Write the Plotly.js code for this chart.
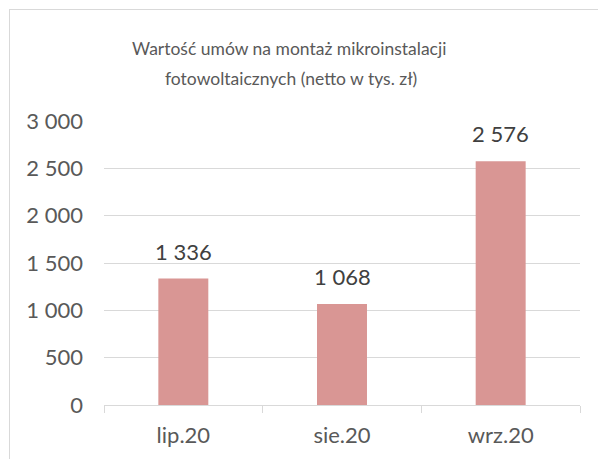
<!DOCTYPE html>
<html>
<head>
<meta charset="utf-8">
<script src="https://cdn.plot.ly/plotly-3.0.1.min.js"></script>
<style>
html,body{margin:0;padding:0;background:#fff;overflow:hidden;}
#wrap{position:relative;width:598px;height:459px;}
#chart{position:absolute;left:0;top:0;width:598px;height:459px;}
#frame{position:absolute;left:9px;top:9px;width:700px;height:600px;border-top:1px solid #D9D9D9;border-left:1px solid #D9D9D9;pointer-events:none;}
</style>
</head>
<body>
<div id="wrap"><div id="chart"></div><div id="frame"></div></div>
<script>
const categories = ["lip.20", "sie.20", "wrz.20"];
const values = [1336, 1068, 2576];
const valueLabels = ["1 336", "1 068", "2 576"];
const yTickValues = [0, 500, 1000, 1500, 2000, 2500, 3000];
const yTickLabels = ["0", "500", "1 000", "1 500", "2 000", "2 500", "3 000"];
const titleLines = ["Wartość umów na montaż mikroinstalacji", "fotowoltaicznych (netto w tys. zł)"];

const FONT = "Lato, 'Open Sans', sans-serif";

const trace = {
  type: "bar",
  x: categories,
  y: values,
  marker: {color: "#D99694"},
  width: 0.315,
  hoverinfo: "none"
};

const annotations = categories.map((c, i) => ({
  x: c, y: values[i], xref: "x", yref: "y",
  text: valueLabels[i], showarrow: false,
  yanchor: "bottom", yshift: 12,
  font: {family: FONT, size: 22, color: "#404040"}
}));
annotations.push({
  x: 0.389, y: 1.257, xref: "paper", yref: "paper",
  text: titleLines[0], showarrow: false, xanchor: "center", yanchor: "middle",
  font: {family: FONT, size: 17.5, color: "#595959"}
});
annotations.push({
  x: 0.393, y: 1.148, xref: "paper", yref: "paper",
  text: titleLines[1], showarrow: false, xanchor: "center", yanchor: "middle",
  font: {family: FONT, size: 17.5, color: "#595959"}
});

const layout = {
  width: 598, height: 459,
  margin: {l: 104, r: 18, t: 121, b: 54, pad: 0},
  paper_bgcolor: "#fff", plot_bgcolor: "#fff",
  showlegend: false,
  bargap: 0.685,
  xaxis: {
    type: "category",
    showline: true, linecolor: "#D9D9D9", linewidth: 1,
    ticks: "outside", tickson: "boundaries", ticklen: 7, tickcolor: "#D9D9D9", tickwidth: 1,
    showgrid: false, zeroline: false,
    tickfont: {family: FONT, size: 22, color: "#595959"},
    ticklabelstandoff: 11,
    fixedrange: true
  },
  yaxis: {
    range: [0, 3000],
    tickmode: "array", tickvals: yTickValues, ticktext: yTickLabels,
    showline: false, zeroline: false,
    showgrid: true, gridcolor: "#D9D9D9", gridwidth: 1,
    ticks: "",
    tickfont: {family: FONT, size: 22, color: "#595959"},
    ticklabelstandoff: 20,
    fixedrange: true
  },
  annotations: annotations
};

Plotly.newPlot("chart", [trace], layout, {displayModeBar: false, staticPlot: true});
</script>
</body>
</html>
